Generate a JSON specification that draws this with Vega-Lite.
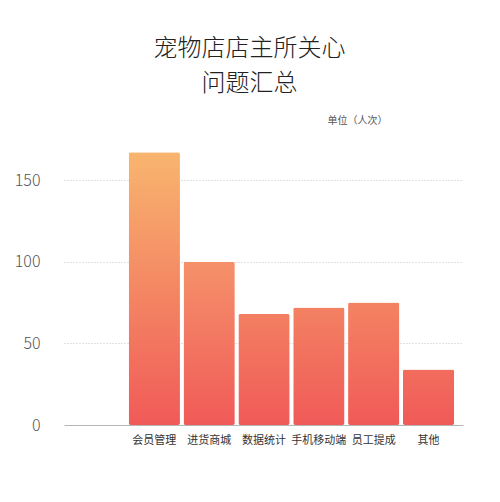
{
  "$schema": "https://vega.github.io/schema/vega-lite/v6.json",
  "autosize": "none",
  "width": 399,
  "height": 294,
  "padding": {"left": 64, "top": 131, "right": 37, "bottom": 77},
  "background": "white",
  "config": {
    "font": "Noto Sans CJK SC",
    "view": {"stroke": null}
  },
  "title": {
    "text": ["宠物店店主所关心", "问题汇总"],
    "fontSize": 24,
    "fontWeight": 300,
    "color": "#222222",
    "lineHeight": 35,
    "anchor": "middle",
    "dx": -14,
    "offset": 19
  },
  "data": {
    "values": [
      {"topic": "会员管理", "count": 167},
      {"topic": "进货商城", "count": 100},
      {"topic": "数据统计", "count": 68},
      {"topic": "手机移动端", "count": 72},
      {"topic": "员工提成", "count": 75},
      {"topic": "其他", "count": 34}
    ]
  },
  "mark": {"type": "bar", "cornerRadius": 2},
  "encoding": {
    "x": {
      "field": "topic",
      "type": "nominal",
      "sort": null,
      "scale": {"paddingInner": 0.065, "paddingOuter": 0.67, "align": 0.88},
      "axis": {
        "title": null,
        "labelAngle": 0,
        "labelFontSize": 11,
        "labelColor": "#333333",
        "labelPadding": 9,
        "domain": false,
        "ticks": false
      }
    },
    "y": {
      "field": "count",
      "type": "quantitative",
      "scale": {"domain": [0, 180], "nice": false},
      "axis": {
        "values": [0, 50, 100, 150],
        "title": "单位（人次）",
        "titleAngle": 0,
        "titleAlign": "left",
        "titleBaseline": "middle",
        "titleX": 263,
        "titleY": -11,
        "titleFontSize": 10,
        "titleFontWeight": "normal",
        "titleColor": "#555555",
        "labelFontSize": 16,
        "labelFontWeight": 300,
        "labelColor": "#555555",
        "labelPadding": 24,
        "domain": false,
        "ticks": false,
        "grid": true,
        "gridColor": {"condition": {"test": "datum.value === 0", "value": "#b5b5b5"}, "value": "#c4c4c4"},
        "gridDash": {"condition": {"test": "datum.value === 0", "value": []}, "value": [1, 2]}
      }
    },
    "color": {
      "condition": [
        {"test": "datum.topic === '会员管理'", "value": {"gradient": "linear", "x1": 0, "y1": 0, "x2": 0, "y2": 1, "stops": [{"offset": 0, "color": "#F8B56F"}, {"offset": 1, "color": "#F05A58"}]}},
        {"test": "datum.topic === '进货商城'", "value": {"gradient": "linear", "x1": 0, "y1": 0, "x2": 0, "y2": 1, "stops": [{"offset": 0, "color": "#F5916A"}, {"offset": 1, "color": "#F05A58"}]}},
        {"test": "datum.topic === '数据统计'", "value": {"gradient": "linear", "x1": 0, "y1": 0, "x2": 0, "y2": 1, "stops": [{"offset": 0, "color": "#F37F61"}, {"offset": 1, "color": "#F05A58"}]}},
        {"test": "datum.topic === '手机移动端'", "value": {"gradient": "linear", "x1": 0, "y1": 0, "x2": 0, "y2": 1, "stops": [{"offset": 0, "color": "#F38162"}, {"offset": 1, "color": "#F05A58"}]}},
        {"test": "datum.topic === '员工提成'", "value": {"gradient": "linear", "x1": 0, "y1": 0, "x2": 0, "y2": 1, "stops": [{"offset": 0, "color": "#F48362"}, {"offset": 1, "color": "#F05A58"}]}}
      ],
      "value": {"gradient": "linear", "x1": 0, "y1": 0, "x2": 0, "y2": 1, "stops": [{"offset": 0, "color": "#F26D5D"}, {"offset": 1, "color": "#F05A58"}]}
    }
  }
}
